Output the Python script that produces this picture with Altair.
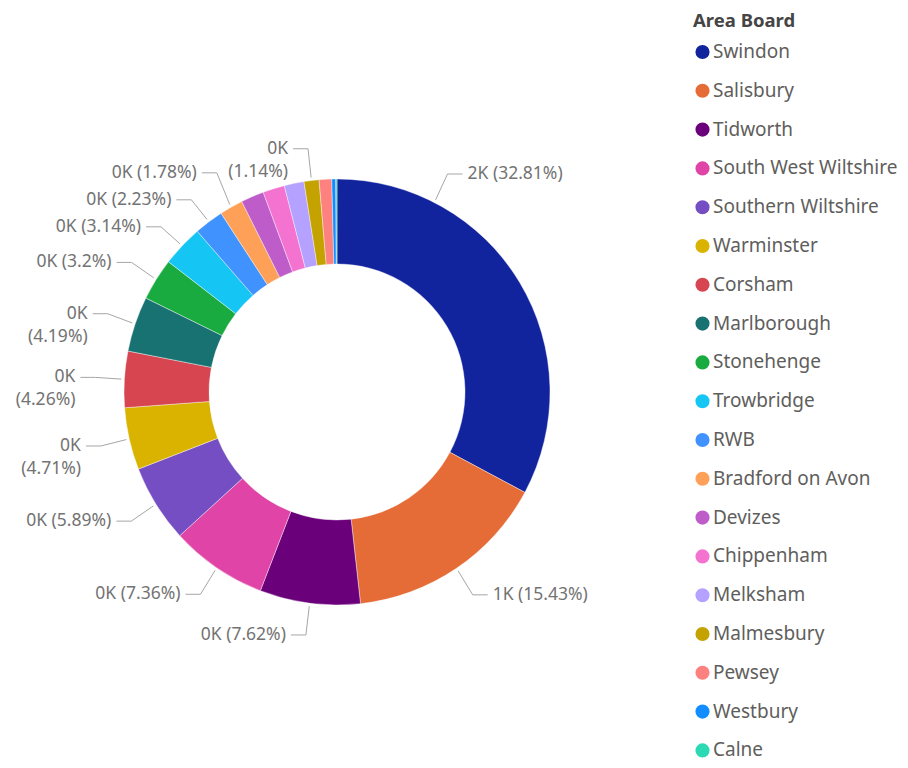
import math
import altair as alt
import pandas as pd

# ---------------- data ----------------
names = ["Swindon", "Salisbury", "Tidworth", "South West Wiltshire", "Southern Wiltshire",
         "Warminster", "Corsham", "Marlborough", "Stonehenge", "Trowbridge", "RWB",
         "Bradford on Avon", "Devizes", "Chippenham", "Melksham", "Malmesbury", "Pewsey",
         "Westbury", "Calne"]
share_pct = [32.81, 15.43, 7.62, 7.36, 5.89, 4.71, 4.26, 4.19, 3.2, 3.14, 2.23,
             1.78, 1.75, 1.65, 1.5, 1.14, 0.95, 0.3, 0.09]
value_k = [2, 1, 0, 0, 0, 0, 0, 0, 0, 0, 0, 0, 0, 0, 0, 0, 0, 0, 0]
colors = ["#12239E", "#E66C37", "#6B007B", "#E044A7", "#744EC2", "#D9B300", "#D64550",
          "#197272", "#1AAB40", "#15C6F4", "#4092FF", "#FFA058", "#BE5DC9", "#F472D0",
          "#B5A1FF", "#C4A200", "#FD817E", "#118DFF", "#2BD9B2"]
labelled = ["Swindon", "Salisbury", "Tidworth", "South West Wiltshire", "Southern Wiltshire",
            "Warminster", "Corsham", "Marlborough", "Stonehenge", "Trowbridge", "RWB",
            "Bradford on Avon", "Malmesbury"]

# ---------------- layout ----------------
W, H = 892, 752
CX, CY = 329, 384
R_OUT, R_IN = 213, 128
R_ANCHOR, R_ELBOW, R_LABEL = 216, 242, 245
SEG, GAP = 15, 5
FONT = "Noto Sans"
LFS = 17.5
LINE_H = 23
CHAR_W = 9.3
anchor_frac = {names[0]: 0.23}   # large first slice: label drawn nearer its start

total = sum(share_pct)
slices = pd.DataFrame({"name": names, "share": share_pct, "idx": list(range(len(names)))})

labels = []
cum = 0.0
for n, p, k in zip(names, share_pct, value_k):
    start = cum / total * 2 * math.pi
    cum += p
    end = cum / total * 2 * math.pi
    if n not in labelled:
        continue
    f = anchor_frac.get(n, 0.5)
    a = start + (end - start) * f
    s, c = math.sin(a), math.cos(a)
    side = "right" if s > 0 else "left"
    txt = f"{k}K ({p:g}%)"
    ex = CX + R_ELBOW * s
    sign = 1 if side == "right" else -1
    tx = ex + sign * (SEG + GAP)
    width = len(txt) * CHAR_W
    lines = [txt]
    if side == "left" and (tx - width < 0 or (abs(s) < 0.2 and c > 0)):
        lines = [f"{k}K", f"({p:g}%)"]
    w = max(len(l) for l in lines) * CHAR_W
    h = LINE_H * len(lines)
    labels.append(dict(name=n, a=a, side=side, ax=CX + R_ANCHOR * s, ay=CY - R_ANCHOR * c,
                       ex=ex, tx=tx, y=CY - R_LABEL * c, w=w, h=h, text="\n".join(lines)))

# simple vertical relaxation of overlapping labels on the same side
for _ in range(200):
    moved = False
    for side in ("left", "right"):
        grp = sorted([l for l in labels if l["side"] == side], key=lambda l: l["y"])
        for i in range(len(grp) - 1):
            u, d = grp[i], grp[i + 1]
            if side == "left":
                xu, xd = (u["tx"] - u["w"], u["tx"]), (d["tx"] - d["w"], d["tx"])
            else:
                xu, xd = (u["tx"], u["tx"] + u["w"]), (d["tx"], d["tx"] + d["w"])
            if xu[1] < xd[0] or xd[1] < xu[0]:
                continue
            need = (u["h"] + d["h"]) / 2 + 4
            gap = d["y"] - u["y"]
            if gap < need - 0.01:
                push = (need - gap) / 2
                u["y"] -= push
                d["y"] += push
                moved = True
    if not moved:
        break

line_rows, text_rows = [], []
for l in labels:
    sign = 1 if l["side"] == "right" else -1
    pts = [(l["ax"], l["ay"]), (l["ex"], l["y"]), (l["ex"] + sign * SEG, l["y"])]
    for j, (x, y) in enumerate(pts):
        line_rows.append(dict(name=l["name"], j=j, px=x, py=y))
    text_rows.append(dict(name=l["name"], px=l["tx"], py=l["y"], text=l["text"], side=l["side"]))
lines_df = pd.DataFrame(line_rows)
texts_df = pd.DataFrame(text_rows)

# ---------------- chart ----------------
donut = alt.Chart(slices).mark_arc(outerRadius=R_OUT, innerRadius=R_IN, stroke="white",
                                   strokeWidth=0.4).encode(
    theta=alt.Theta("share:Q", stack=True),
    order=alt.Order("idx:Q"),
    x=alt.value(CX), y=alt.value(CY),
    color=alt.Color("name:N", sort=names,
                    scale=alt.Scale(domain=names, range=colors),
                    legend=alt.Legend(title="Area Board", orient="none", legendX=685, legendY=4,
                                      symbolType="circle", symbolSize=200, symbolStrokeWidth=0,
                                      labelFont=FONT, labelFontSize=19, labelColor="#605E5C",
                                      titleFont=FONT, titleFontSize=18.5, titleFontWeight="bold",
                                      titleColor="#454545", titlePadding=12, rowPadding=18.8,
                                      titleBaseline="top", labelOffset=1, labelLimit=400,
                                      symbolLimit=50)),
)

leaders = alt.Chart(lines_df).mark_line(color="#A6A6A6", strokeWidth=1).encode(
    x=alt.X("px:Q", scale=None, axis=None),
    y=alt.Y("py:Q", scale=None, axis=None),
    detail="name:N",
    order="j:Q",
)

text_left = alt.Chart(texts_df).transform_filter(alt.datum.side == "left").mark_text(
    align="right", baseline="middle", font=FONT, fontSize=LFS, color="#737373",
    lineBreak="\n", lineHeight=LINE_H).encode(
    x=alt.X("px:Q", scale=None, axis=None),
    y=alt.Y("py:Q", scale=None, axis=None),
    text="text:N",
)
text_right = alt.Chart(texts_df).transform_filter(alt.datum.side == "right").mark_text(
    align="left", baseline="middle", font=FONT, fontSize=LFS, color="#737373",
    lineBreak="\n", lineHeight=LINE_H).encode(
    x=alt.X("px:Q", scale=None, axis=None),
    y=alt.Y("py:Q", scale=None, axis=None),
    text="text:N",
)

chart = alt.layer(donut, leaders, text_left, text_right).properties(
    width=W, height=H, padding=0, autosize=alt.AutoSizeParams(type="none"),
).configure_view(stroke=None).resolve_scale(color="independent")

chart.save("out.html", embed_options={"renderer": "svg", "actions": False})
